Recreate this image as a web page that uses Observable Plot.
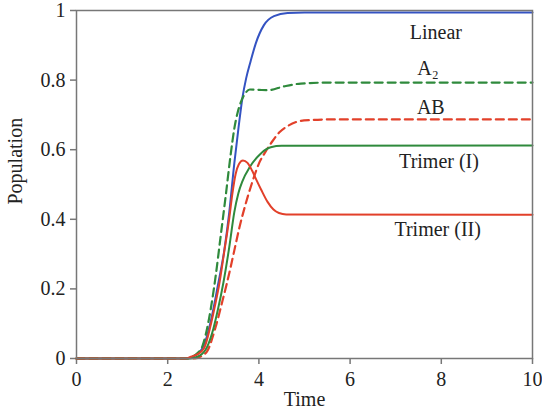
<!DOCTYPE html>
<html>
<head>
<meta charset="utf-8">
<script src="https://cdn.jsdelivr.net/npm/d3@7"></script>
<script src="https://cdn.jsdelivr.net/npm/@observablehq/plot@0.6"></script>
<style>
  html, body { margin: 0; padding: 0; background: #fff; }
</style>
</head>
<body>
<div id="chart"></div>
<script>
// ---- data ----
const xTicks = [0, 2, 4, 6, 8, 10];
const yTicks = [0, 0.2, 0.4, 0.6, 0.8, 1];

const linearT = [0, 2.4, 2.6, 2.8, 2.95, 3.1, 3.24, 3.35, 3.46, 3.55, 3.64, 3.72, 3.82, 3.93, 4.11, 4.33, 4.63, 5.0, 6, 10];
const linearY = [0, 0, 0.008, 0.04, 0.11, 0.21, 0.31, 0.42, 0.56, 0.66, 0.75, 0.805, 0.855, 0.905, 0.958, 0.984, 0.993, 0.994, 0.994, 0.994];

const a2T = [0, 2.4, 2.5, 2.65, 2.76, 2.9, 3.05, 3.16, 3.27, 3.38, 3.46, 3.53, 3.6, 3.7, 3.8, 4.0, 4.2, 4.55, 4.92, 5.6, 10];
const a2Y = [0, 0, 0.003, 0.015, 0.035, 0.11, 0.235, 0.35, 0.465, 0.585, 0.66, 0.705, 0.735, 0.762, 0.773, 0.772, 0.771, 0.782, 0.79, 0.793, 0.793];

const abT = [0, 2.6, 2.75, 2.87, 3.05, 3.2, 3.35, 3.46, 3.57, 3.7, 3.85, 4.0, 4.15, 4.3, 4.45, 4.63, 4.99, 5.6, 10];
const abY = [0, 0, 0.008, 0.022, 0.09, 0.165, 0.245, 0.31, 0.375, 0.44, 0.505, 0.56, 0.595, 0.625, 0.65, 0.668, 0.684, 0.687, 0.687];

const trimer1T = [0, 2.5, 2.7, 2.87, 3.0, 3.1, 3.22, 3.35, 3.46, 3.55, 3.64, 3.8, 4.05, 4.26, 4.5, 10];
const trimer1Y = [0, 0, 0.008, 0.035, 0.085, 0.14, 0.217, 0.32, 0.42, 0.475, 0.51, 0.55, 0.59, 0.607, 0.611, 0.612];

const trimer2T = [0, 2.4, 2.51, 2.65, 2.8, 2.95, 3.05, 3.13, 3.24, 3.35, 3.42, 3.49, 3.56, 3.65, 3.75, 3.85, 3.95, 4.05, 4.19, 4.32, 4.44, 4.6, 10];
const trimer2Y = [0, 0, 0.005, 0.012, 0.03, 0.1, 0.16, 0.213, 0.307, 0.403, 0.475, 0.53, 0.558, 0.569, 0.562, 0.54, 0.512, 0.485, 0.45, 0.428, 0.418, 0.414, 0.413];

const labelNames = ["Linear", "A\u2082", "AB", "Trimer (I)", "Trimer (II)"];
const labelX = [7.88, 7.71, 7.77, 7.95, 7.92];
const labelY = [0.936, 0.833, 0.722, 0.565, 0.371];

// ---- styling ----
const BLUE = "#3453c2";
const GREEN = "#2f8a3c";
const RED = "#e2402a";

const toRows = (t, v) => t.map((x, i) => ({t: x, v: v[i]}));

const chart = Plot.plot({
  width: 542,
  height: 420,
  marginLeft: 76,
  marginRight: 10,
  marginTop: 10,
  marginBottom: 62,
  style: {
    fontFamily: "'Liberation Serif', 'Times New Roman', 'DejaVu Serif', serif",
    fontSize: "20px",
    color: "#222",
    background: "#fff"
  },
  x: {domain: [0, 10]},
  y: {domain: [0, 1]},
  marks: [
    Plot.axisX({ticks: xTicks, tickSize: 6, tickPadding: 7, stroke: "#777", strokeWidth: 1.5, label: null, tickFormat: d => String(d), fontSize: 20}),
    Plot.axisY({ticks: yTicks, tickSize: 6, tickPadding: 5, stroke: "#777", strokeWidth: 1.5, label: null, tickFormat: d => String(d), fontSize: 20}),
    Plot.line(toRows(linearT, linearY), {x: "t", y: "v", stroke: BLUE, strokeWidth: 2, curve: "monotone-x"}),
    Plot.line(toRows(a2T, a2Y), {x: "t", y: "v", stroke: GREEN, strokeWidth: 2.2, strokeDasharray: "8,5", curve: "monotone-x"}),
    Plot.line(toRows(abT, abY), {x: "t", y: "v", stroke: RED, strokeWidth: 2.2, strokeDasharray: "8,5", curve: "monotone-x"}),
    Plot.line(toRows(trimer1T, trimer1Y), {x: "t", y: "v", stroke: GREEN, strokeWidth: 2, curve: "monotone-x"}),
    Plot.line(toRows(trimer2T, trimer2Y), {x: "t", y: "v", stroke: RED, strokeWidth: 2, curve: "monotone-x"}),
    Plot.frame({stroke: "#777", strokeWidth: 1.5}),
    Plot.text(labelNames, {x: labelX, y: labelY, fill: "#222", fontSize: 20}),
    Plot.text(["Population"], {frameAnchor: "left", dx: -61, dy: 20, rotate: -90, fill: "#222", fontSize: 20}),
    Plot.text(["Time"], {frameAnchor: "bottom", dy: 47, fill: "#222", fontSize: 20})
  ]
});
document.getElementById("chart").appendChild(chart);
</script>
</body>
</html>
